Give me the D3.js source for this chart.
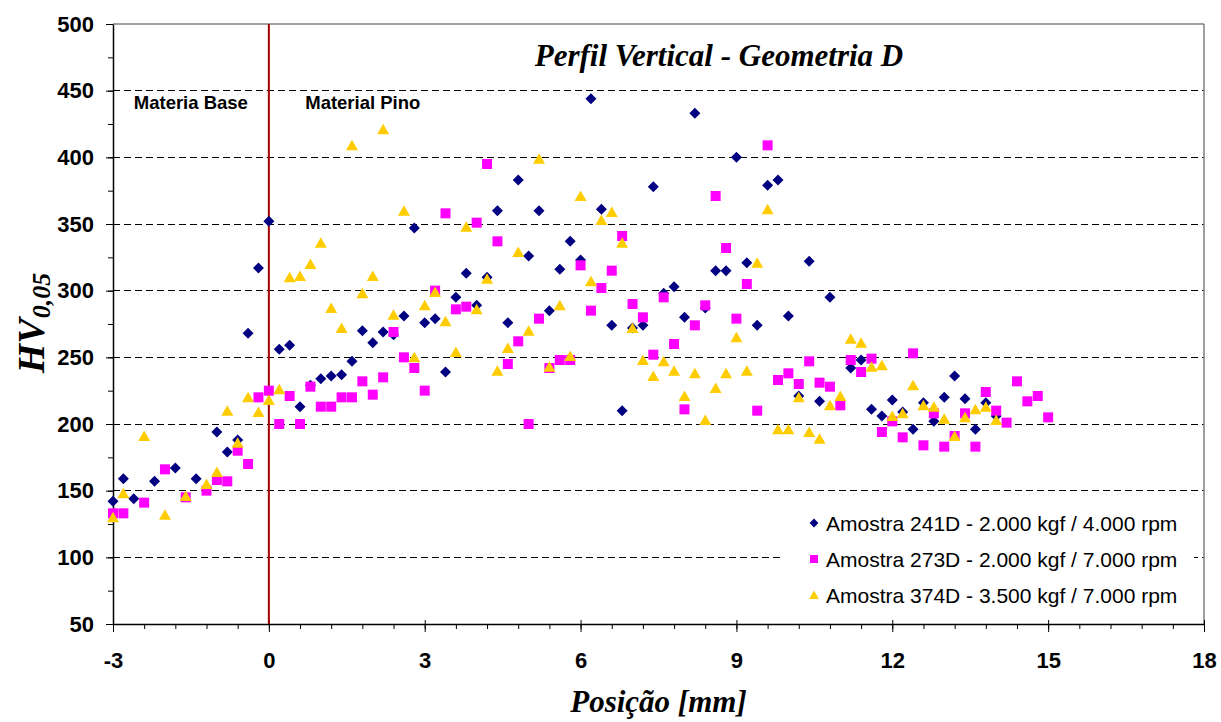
<!DOCTYPE html>
<html>
<head>
<meta charset="utf-8">
<script src="https://cdn.jsdelivr.net/npm/d3@7/dist/d3.min.js"></script>
<style>
  html, body { margin: 0; padding: 0; background: #fff; }
  svg { display: block; }
</style>
</head>
<body>
<svg id="chart" width="1221" height="722"></svg>
<script>
// Hardness profile (HV 0.05) along the vertical position, geometry D
const pos241 = [-3,-2.8,-2.6,-2.2,-1.8,-1.4,-1.0,-0.8,-0.6,-0.4,-0.2,0,
  0.2,0.4,0.6,0.8,1.0,1.2,1.4,1.6,1.8,2.0,2.2,2.4,2.6,2.8,3.0,3.2,3.4,3.6,3.8,4.0,
  4.2,4.4,4.6,4.8,5.0,5.2,5.4,5.6,5.8,6.0,6.2,6.4,6.6,6.8,7.0,7.2,7.4,7.6,7.8,8.0,
  8.2,8.4,8.6,8.8,9.0,9.2,9.4,9.6,9.8,10.0,10.2,10.4,10.6,10.8,
  11.2,11.4,11.6,11.8,12.0,12.2,12.4,12.6,12.8,13.0,13.2,13.4,13.6,13.8,14.0];
const hv241 = [142,159,144,157,167,159,194,179,188,268,317,352,
  256,259,213,229,234,236,237,247,270,261,269,267,281,347,276,279,239,295,313,289,
  310,360,276,383,326,360,285,316,337,323,444,361,274,210,272,274,378,298,303,280,
  433,287,315,315,400,321,274,379,383,281,221,322,217,295,
  242,248,211,206,218,209,196,216,202,220,236,219,196,216,206];

const pos273 = [-3,-2.8,-2.4,-2.0,-1.6,-1.2,-1.0,-0.8,-0.6,-0.4,-0.2,0,
  0.2,0.4,0.6,0.8,1.0,1.2,1.4,1.6,1.8,2.0,2.2,2.4,2.6,2.8,3.0,3.2,3.4,3.6,3.8,4.0,
  4.2,4.4,4.6,4.8,5.0,5.2,5.4,5.6,5.8,6.0,6.2,6.4,6.6,6.8,7.0,7.2,7.4,7.6,7.8,8.0,
  8.2,8.4,8.6,8.8,9.0,9.2,9.4,9.6,9.8,10.0,10.2,10.4,10.6,10.8,11.0,11.2,11.4,11.6,11.8,12.0,
  12.2,12.4,12.6,12.8,13.0,13.2,13.4,13.6,13.8,14.0,14.2,14.4,14.6,14.8,15.0];
const hv273 = [133,133,141,166,145,150,158,157,180,170,220,225,
  200,221,200,228,213,213,220,220,232,222,235,269,250,242,225,300,358,286,288,351,
  395,337,245,262,200,279,242,248,248,319,285,302,315,341,290,280,252,295,260,211,
  274,289,371,332,279,305,210,409,233,238,230,247,231,228,214,248,239,249,194,202,
  190,253,184,208,183,191,208,183,224,210,201,232,217,221,205];

const pos374 = [-3,-2.8,-2.4,-2.0,-1.6,-1.2,-1.0,-0.8,-0.6,-0.4,-0.2,0,
  0.2,0.4,0.6,0.8,1.0,1.2,1.4,1.6,1.8,2.0,2.2,2.4,2.6,2.8,3.0,3.2,3.4,3.6,3.8,4.0,
  4.2,4.4,4.6,4.8,5.0,5.2,5.4,5.6,5.8,6.0,6.2,6.4,6.6,6.8,7.0,7.2,7.4,7.6,7.8,8.0,
  8.2,8.4,8.6,8.8,9.0,9.2,9.4,9.6,9.8,10.0,10.2,10.4,10.6,10.8,11.0,11.2,11.4,11.6,11.8,12.0,
  12.2,12.4,12.6,12.8,13.0,13.2,13.4,13.6,13.8,14.0];
const hv374 = [130,148,191,132,146,155,164,210,186,220,209,218,
  226,310,311,320,336,287,272,409,298,311,421,282,360,250,289,299,277,254,348,286,
  309,240,257,329,270,399,243,289,251,371,307,353,359,336,272,248,236,247,240,221,
  238,203,227,238,265,240,321,361,196,196,220,194,189,214,221,264,261,243,244,206,
  208,229,214,213,204,191,205,211,213,203];

const seriesNames = [
  "Amostra 241D - 2.000 kgf / 4.000 rpm",
  "Amostra 273D - 2.000 kgf / 7.000 rpm",
  "Amostra 374D - 3.500 kgf / 7.000 rpm"
];
const seriesColors = ["#000080", "#ff00ff", "#ffcc00"];

const xMajorTicks = [-3, 0, 3, 6, 9, 12, 15, 18];
const yMajorTicks = [50, 100, 150, 200, 250, 300, 350, 400, 450, 500];

const chartTitle = "Perfil Vertical - Geometria D";
const xTitle = "Posição [mm]";
const regionLabels = [{x: -2.6, text: "Materia Base"}, {x: 0.7, text: "Material Pino"}];

// ---------------------------------------------------------------
const svg = d3.select("#chart");
const plot = {left: 113, right: 1204, top: 24, bottom: 624};
const sans = "'Liberation Sans', Arial, sans-serif";
const serif = "'Liberation Serif', 'Times New Roman', serif";

const x = d3.scaleLinear().domain([-3, 18]).range([plot.left, plot.right]);
const y = d3.scaleLinear().domain([50, 500]).range([plot.bottom, plot.top]);

// dashed horizontal gridlines
svg.append("g").selectAll("line")
  .data(yMajorTicks.filter(v => v > 50 && v < 500))
  .join("line")
  .attr("x1", plot.left).attr("x2", plot.right)
  .attr("y1", d => y(d)).attr("y2", d => y(d))
  .attr("stroke", "#000").attr("stroke-width", 1)
  .attr("stroke-dasharray", "7,4")
  .attr("shape-rendering", "crispEdges");

// plot frame (top / right in gray)
svg.append("line").attr("x1", plot.left).attr("x2", plot.right)
  .attr("y1", plot.top).attr("y2", plot.top)
  .attr("stroke", "#808080").attr("stroke-width", 1.5);
svg.append("line").attr("x1", plot.right).attr("x2", plot.right)
  .attr("y1", plot.top).attr("y2", plot.bottom)
  .attr("stroke", "#808080").attr("stroke-width", 1.5);

// y axis: minor then major ticks
const yMinor = d3.range(50, 501, 25);
svg.append("g").attr("transform", `translate(${plot.left},0)`)
  .call(d3.axisLeft(y).tickValues(yMinor).tickSize(5).tickSizeOuter(0).tickFormat(""))
  .call(g => g.select(".domain").remove())
  .call(g => g.selectAll("line").attr("stroke", "#000"));
const yAxis = svg.append("g").attr("transform", `translate(${plot.left},0)`)
  .call(d3.axisLeft(y).tickValues(yMajorTicks).tickSize(7).tickSizeOuter(0).tickPadding(12)
    .tickFormat(d => String(d)))
  .call(g => g.select(".domain").attr("stroke", "#000").attr("stroke-width", 1.5));
yAxis.selectAll("text")
  .attr("font-family", sans).attr("font-weight", "bold").attr("font-size", 22)
  .attr("fill", "#000");

// x axis: minor then major ticks
const xMinor = d3.range(-3, 18.001, 0.6);
svg.append("g").attr("transform", `translate(0,${plot.bottom})`)
  .call(d3.axisBottom(x).tickValues(xMinor).tickSize(5).tickSizeOuter(0).tickFormat(""))
  .call(g => g.select(".domain").remove())
  .call(g => g.selectAll("line").attr("stroke", "#000"));
const xAxis = svg.append("g").attr("transform", `translate(0,${plot.bottom})`)
  .call(d3.axisBottom(x).tickValues(xMajorTicks).tickSize(8).tickSizeOuter(0).tickPadding(20)
    .tickFormat(d => String(d)))
  .call(g => g.select(".domain").attr("stroke", "#000").attr("stroke-width", 1.5));
xAxis.selectAll(".tick line").attr("y1", -4);
xAxis.selectAll("text")
  .attr("font-family", sans).attr("font-weight", "bold").attr("font-size", 22)
  .attr("fill", "#000");

// interface between base material and pin
svg.append("line")
  .attr("x1", x(0)).attr("x2", x(0))
  .attr("y1", plot.top).attr("y2", plot.bottom)
  .attr("stroke", "#a50000").attr("stroke-width", 2);

// region labels
svg.append("g").selectAll("text").data(regionLabels).join("text")
  .attr("x", d => x(d.x)).attr("y", 109)
  .attr("font-family", sans).attr("font-weight", "bold").attr("font-size", 18.5)
  .text(d => d.text);

// markers
const markerPaths = [
  "M0,-5.5L5.5,0L0,5.5L-5.5,0Z",
  "M-5,-5H5V5H-5Z",
  "M0,-5.5L6,5H-6Z"
];
const seriesData = [
  pos241.map((p, i) => [p, hv241[i]]),
  pos273.map((p, i) => [p, hv273[i]]),
  pos374.map((p, i) => [p, hv374[i]])
];
seriesData.forEach((pts, s) => {
  svg.append("g").selectAll("path").data(pts).join("path")
    .attr("d", markerPaths[s])
    .attr("transform", d => `translate(${x(d[0])},${y(d[1])})`)
    .attr("fill", seriesColors[s]);
});

// title
svg.append("text")
  .attr("x", 719).attr("y", 66).attr("text-anchor", "middle")
  .attr("font-family", serif).attr("font-weight", "bold").attr("font-style", "italic")
  .attr("font-size", 31).text(chartTitle);

// axis titles
svg.append("text")
  .attr("x", (plot.left + plot.right) / 2).attr("y", 712).attr("text-anchor", "middle")
  .attr("font-family", serif).attr("font-weight", "bold").attr("font-style", "italic")
  .attr("font-size", 31).text(xTitle);

const yt = svg.append("text")
  .attr("transform", "translate(44,323) rotate(-90)")
  .attr("text-anchor", "middle")
  .attr("font-family", serif).attr("font-weight", "bold").attr("font-style", "italic")
  .attr("font-size", 38);
yt.append("tspan").text("HV");
yt.append("tspan").attr("font-size", 26).attr("dy", 6).text("0,05");

// legend
const legend = svg.append("g");
legend.append("rect").attr("x", 782).attr("y", 503).attr("width", 412).attr("height", 114)
  .attr("fill", "#fff");
seriesNames.forEach((name, i) => {
  const cy = 523 + i * 36;
  legend.append("path").attr("d", markerPaths[i])
    .attr("transform", `translate(814,${cy}) scale(0.8)`)
    .attr("fill", seriesColors[i]);
  legend.append("text").attr("x", 826).attr("y", cy + 7.5)
    .attr("font-family", sans).attr("font-size", 21).text(name);
});
</script>
</body>
</html>
